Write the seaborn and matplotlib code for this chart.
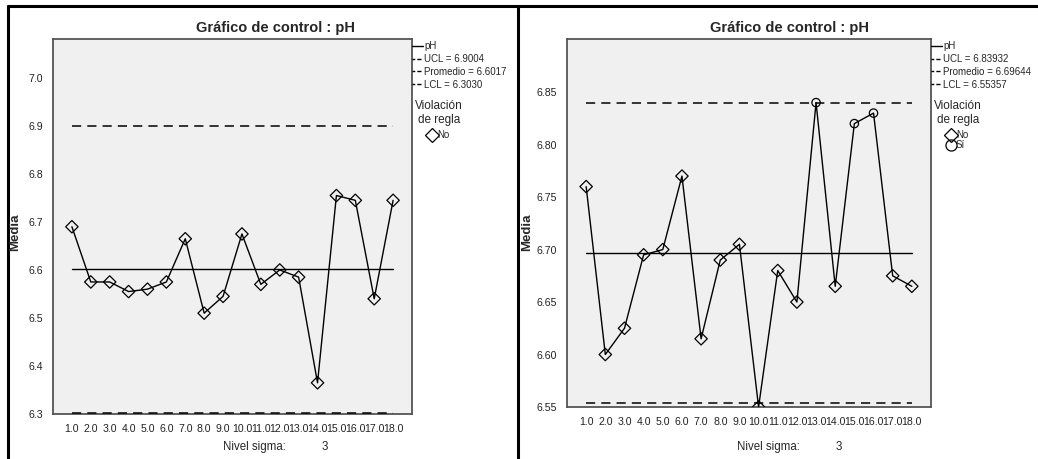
import matplotlib
matplotlib.use("Agg")
import matplotlib.pyplot as plt
import pandas as pd
import seaborn as sns
from matplotlib.lines import Line2D

# Subgroup numbers and their tick labels
subgroups = list(range(1, 19))
subgroup_labels = ["1.0", "2.0", "3.0", "4.0", "5.0", "6.0", "7.0", "8.0", "9.0",
                   "10.0", "11.0", "12.0", "13.0", "14.0", "15.0", "16.0", "17.0", "18.0"]

# Left chart: subgroup means of pH
ph_means_a = [6.690, 6.575, 6.575, 6.555, 6.560, 6.575, 6.665, 6.510, 6.545,
              6.675, 6.570, 6.600, 6.585, 6.365, 6.755, 6.745, 6.540, 6.745]
rule_a = ["No"] * 18
limits_a = {"UCL": 6.9004, "Promedio": 6.6017, "LCL": 6.3030}
limits_a_text = {"UCL": "6.9004", "Promedio": "6.6017", "LCL": "6.3030"}
yticks_a = [6.3, 6.4, 6.5, 6.6, 6.7, 6.8, 6.9, 7.0]
ylim_a = (6.3, 7.081)

# Right chart: subgroup means of pH
ph_means_b = [6.760, 6.600, 6.625, 6.695, 6.700, 6.770, 6.615, 6.690, 6.705,
              6.550, 6.680, 6.650, 6.840, 6.665, 6.820, 6.830, 6.675, 6.665]
rule_b = ["No"] * 12 + ["Sí", "No", "Sí", "Sí", "No", "No"]
limits_b = {"UCL": 6.83932, "Promedio": 6.69644, "LCL": 6.55357}
limits_b_text = {"UCL": "6.83932", "Promedio": "6.69644", "LCL": "6.55357"}
yticks_b = [6.55, 6.60, 6.65, 6.70, 6.75, 6.80, 6.85]
ylim_b = (6.55, 6.9006)

sigma_level = "3"
title = "Gráfico de control : pH"

sns.set_style("white")
plt.rcParams["font.family"] = ["Liberation Sans", "DejaVu Sans"]

W, H = 1038, 459
fig = plt.figure(figsize=(W / 100, H / 100), dpi=100)

BG = "#f0f0f0"
SPINE = "#555555"
marker_map = {"No": "D", "Sí": "o"}
size_map = {"No": 40, "Sí": 36}


def px_box(left, top, right, bottom):
    return [left / W, 1 - bottom / H, (right - left) / W, (bottom - top) / H]


def draw_chart(rect, means, rules, limits, limits_text, yticks, ylim, ytick_fmt,
               title_x, ylabel_x, sigma_x, legend_y):
    ax = fig.add_axes(rect)
    ax.set_facecolor(BG)
    df = pd.DataFrame({"subgroup": subgroups, "pH": means, "rule": rules})
    ax_h = rect[3] * H

    x0, x1 = subgroups[0], subgroups[-1]
    for key in ["UCL", "LCL"]:
        ax.plot([x0, x1], [limits[key]] * 2, color="black", lw=1.1,
                dashes=(6, 4), zorder=3, clip_on=False)
    ax.plot([x0, x1], [limits["Promedio"]] * 2, color="black", lw=1.0, zorder=3)

    sns.lineplot(data=df, x="subgroup", y="pH", color="black", lw=1.0,
                 ax=ax, legend=False, zorder=3)
    for kind in ["No", "Sí"]:
        sub = df[df["rule"] == kind]
        if len(sub):
            sns.scatterplot(data=sub, x="subgroup", y="pH", marker=marker_map[kind],
                            s=size_map[kind], facecolor="none", edgecolor="black",
                            linewidth=0.9, ax=ax, legend=False, zorder=4)

    ax.set_xlim(0, 19)
    ax.set_ylim(*ylim)
    ax.set_xticks(subgroups)
    ax.set_xticklabels(subgroup_labels, fontsize=7.6, color="#222222")
    ax.set_yticks(yticks)
    ax.set_yticklabels([ytick_fmt.format(v) for v in yticks], fontsize=7.6,
                       color="#222222")
    ax.tick_params(axis="both", length=5, width=0.9, color=SPINE, pad=2)
    for s in ax.spines.values():
        s.set_color(SPINE)
        s.set_linewidth(1.3)
    ax.set_xlabel("")
    ax.set_ylabel("")

    fig.text(title_x / W, 1 - 28 / H, title, ha="center", va="center",
             fontsize=10.5, fontweight="bold")
    fig.text(ylabel_x / W, 1 - 232 / H, "Media", rotation=90, ha="center",
             va="center", fontsize=9.5, fontweight="bold")
    fig.text(sigma_x / W, 1 - 447 / H, "Nivel sigma:", ha="left", va="center",
             fontsize=8.3)
    fig.text((sigma_x + 99) / W, 1 - 447 / H, sigma_level, ha="left",
             va="center", fontsize=8.3)

    # Line legend
    line_handles = [
        Line2D([], [], color="black", lw=1.0),
        Line2D([], [], color="black", lw=1.0, dashes=(2, 1.5, 3, 1.5)),
        Line2D([], [], color="black", lw=1.0, dashes=(2, 1.5, 3, 1.5)),
        Line2D([], [], color="black", lw=1.0, dashes=(2, 1.5, 3, 1.5)),
    ]
    line_labels = ["pH"] + [f"{k} = {limits_text[k]}" for k in ["UCL", "Promedio", "LCL"]]
    leg1 = ax.legend(line_handles, line_labels, loc="upper left",
                     bbox_to_anchor=(0.002, 1 - 2 / ax_h, 1.0, 0.0),
                     bbox_transform=ax.transAxes, frameon=False, fontsize=7,
                     handlelength=1.1, handletextpad=0.15, labelspacing=0.3,
                     borderpad=0.0, borderaxespad=0.0)
    leg1.set_bbox_to_anchor((1.0, 1 - 2 / ax_h), transform=ax.transAxes)
    ax.add_artist(leg1)

    # Rule-violation legend
    kinds = [k for k in ["No", "Sí"] if k in rules]
    mk_handles = [Line2D([], [], ls="none", marker=marker_map[k], mfc="none",
                         mec="black", mew=0.9, ms=7.5 if k == "No" else 8)
                  for k in kinds]
    leg2 = ax.legend(mk_handles, kinds, loc="upper left",
                     bbox_to_anchor=(1.0, legend_y), frameon=False, fontsize=7,
                     title="Violación\nde regla", title_fontsize=8.5,
                     handlelength=0.8, handletextpad=0.1, labelspacing=0.0,
                     borderpad=0.3, borderaxespad=0.0)
    leg2.get_title().set_multialignment("center")
    leg2._legend_box.sep = 3
    return ax


draw_chart(px_box(53, 39, 412, 414), ph_means_a, rule_a, limits_a, limits_a_text,
           yticks_a, ylim_a, "{:.1f}", 275, 15, 223, 0.845)
draw_chart(px_box(567, 39, 931, 407), ph_means_b, rule_b, limits_b, limits_b_text,
           yticks_b, ylim_b, "{:.2f}", 790, 527, 737, 0.842)

# Panel frame
fig.add_artist(Line2D([8 / W, 1.0], [1 - 6 / H, 1 - 6 / H], color="black", lw=2.2,
                      transform=fig.transFigure))
fig.add_artist(Line2D([8 / W, 8 / W], [0, 1 - 6 / H], color="black", lw=2.2,
                      transform=fig.transFigure))
fig.add_artist(Line2D([518 / W, 518 / W], [0, 1 - 6 / H], color="black", lw=2.2,
                      transform=fig.transFigure))

fig.savefig("out.png", dpi=100)
